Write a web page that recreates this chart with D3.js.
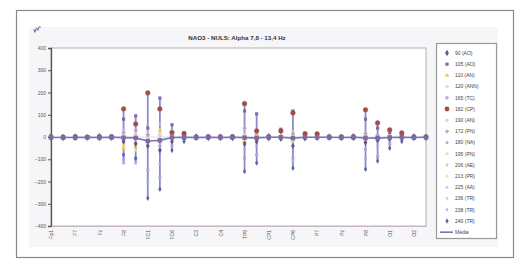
<!DOCTYPE html>
<html><head><meta charset="utf-8">
<script src="https://cdn.jsdelivr.net/npm/d3@7"></script>
<style>body{margin:0;background:#fff}svg{display:block}text{font-family:"Liberation Sans",Arial,sans-serif}</style>
</head><body><svg id="c" width="520" height="260"></svg>
<script>
const categories = ["Fp1","Fp2","F7","F3","Fz","F4","F8","FC5","FC1","FC2","FC6","T7","C3","Cz","C4","T8","TP9","CP5","CP1","CP2","CP6","TP10","P7","P3","Pz","P4","P8","PO9","O1","Oz","O2","PO10"];
const seriesNames = ["90 (AO)","105 (AO)","110 (AN)","120 (ANN)","165 (TC)","182 (CP)","190 (AN)","172 (PN)","180 (NA)","195 (PN)","206 (AE)","213 (PR)","225 (AA)","236 (TR)","238 (TR)","240 (TR)"];
const yTicks = [-400,-300,-200,-100,0,100,200,300,400];
const s1 = [2,-3,1,-2,3,-1,-20,-30,-40,-60,-20,-5,2,-3,1,-2,-30,-20,3,-4,-40,-3,2,1,-2,3,-25,-15,-8,-4,2,-1];
const s2 = [4,3,5,2,4,6,80,95,40,175,55,20,3,5,4,6,117,104,5,35,117,18,8,4,3,5,80,40,20,10,4,3];
const s3 = [-3,2,-4,3,-2,1,-50,-40,-20,30,10,-4,-6,2,-3,1,-20,5,2,4,-15,3,-2,4,1,-3,-10,-8,-4,2,1,-2];
const s4 = [1,-1,2,0,1,-2,10,12,5,8,4,2,1,-1,0,2,8,5,1,3,6,2,0,1,-1,1,5,4,2,1,0,1];
const s5 = [-5,-4,-6,-3,-5,-4,-100,-100,-150,-180,-40,-10,-5,-6,-4,-5,-95,-80,-6,-8,-95,-5,-4,-5,-6,-4,-55,-90,-30,-10,-5,-4];
const s6 = [0,-1,0,-1,0,-1,126,58,198,126,20,15,-1,0,-1,0,150,27,0,27,108,14,14,-1,0,-1,122,63,32,18,-1,0];
const s7 = [0,1,-1,2,0,-1,5,-5,8,-6,3,-2,1,0,-1,1,6,-3,2,1,4,-1,0,1,-2,0,5,-3,2,0,1,-1];
const s8 = [2,1,3,-1,2,0,20,30,10,-40,8,3,1,2,0,1,40,10,1,4,15,2,1,0,2,1,15,8,4,2,1,0];
const s9 = [-3,-2,-4,-2,-3,-1,-117,-117,-200,-120,30,-8,-3,-2,-4,-3,-55,-40,-3,-5,-110,-3,-2,-3,-2,-4,-100,-40,-20,-6,-3,-2];
const s10 = [1,0,-1,1,2,0,-40,-20,-10,15,5,1,0,1,2,0,-10,6,1,2,-8,1,0,1,-1,0,-6,-4,2,1,0,1];
const s11 = [2,1,0,2,1,3,15,10,6,-8,4,2,1,0,2,1,12,3,2,1,10,2,1,2,0,1,8,5,3,1,2,1];
const s12 = [-1,-2,0,-1,-2,-1,-30,-60,-15,-20,-6,-2,-1,0,-2,-1,-15,-10,-1,-2,-20,-1,-2,0,-1,-2,-12,-8,-4,-2,-1,0];
const s13 = [1,2,1,0,1,2,8,5,10,6,3,1,2,1,0,1,6,4,1,2,5,1,2,1,0,2,4,3,2,1,1,2];
const s14 = [0,-1,1,0,-1,0,-10,20,-8,12,-4,1,0,-1,1,0,-8,6,0,1,-6,1,0,-1,0,1,-5,3,-2,1,0,-1];
const s15 = [1,0,2,1,0,1,30,-10,25,60,10,4,1,2,0,1,20,15,2,3,25,3,1,0,1,2,18,10,5,3,1,0];
const s16 = [-6,-5,-7,-4,-6,-5,-80,-95,-275,-235,-60,-20,-6,-5,-7,-6,-155,-117,-8,-10,-140,-8,-6,-5,-7,-6,-145,-108,-50,-20,-6,-5];
const media = [-2,-2,-2,-1,-2,-1,-3,-4,-18,-15,-2,-1,-2,-1,-2,-1,-3,-4,-1,-1,-5,-1,-1,-1,-2,-1,-4,-5,-2,-1,-2,-1];

const allSeries = [s1,s2,s3,s4,s5,s6,s7,s8,s9,s10,s11,s12,s13,s14,s15,s16];
const colors = ["#6f4f8f","#8466a8","#f0cf5a","#d4d4e6","#b4a4d6","#a84a34","#d0d0de","#b0a0d0","#a0b4d8","#ecdc9a","#f0cc9c","#eee2a8","#ccd0e6","#e6c6d8","#c8b8da","#5a66a8"];
const shapes = [d3.symbolDiamond,d3.symbolSquare,d3.symbolTriangle,d3.symbolCross,d3.symbolSquare,d3.symbolCircle,d3.symbolCircle,d3.symbolCross,d3.symbolSquare,d3.symbolTriangle,d3.symbolDiamond,d3.symbolTriangle,d3.symbolSquare,d3.symbolDiamond,d3.symbolCircle,d3.symbolDiamond];
const sizes = [12,10,10,8,9,18,7,9,7,7,7,7,7,7,7,9];

const svg = d3.select("#c");
svg.append("rect").attr("x",16.5).attr("y",10.5).attr("width",497).attr("height",247).attr("fill","#fff").attr("stroke","#8a8a8a").attr("stroke-width",1.2);
svg.append("rect").attr("x",29).attr("y",27).attr("width",469).attr("height",220).attr("fill","#f6f6f8");

const x = d3.scalePoint().domain(categories).range([51,426]);
const y = d3.scaleLinear().domain([-400,400]).range([226,48]);

svg.append("rect").attr("x",51).attr("y",48).attr("width",375).attr("height",178).attr("fill","#fff").attr("stroke","#b0b0b0").attr("stroke-width",1);

svg.append("text").attr("x",237).attr("y",40).attr("text-anchor","middle").attr("font-size",6.2).attr("font-weight","bold").attr("fill","#333").text("NAO3 - NULS: Alpha 7,8 - 13,4 Hz");
svg.append("text").attr("x",34).attr("y",32).attr("font-size",5).attr("font-weight","bold").attr("fill","#444").attr("transform","rotate(-20,34,32)").text("µV²");

const yAxis = d3.axisLeft(y).tickValues(yTicks).tickSize(3).tickPadding(2);
const gy = svg.append("g").attr("transform","translate(51,0)").call(yAxis);
gy.selectAll("text").attr("font-size",5).attr("fill","#555");
gy.selectAll("line").attr("stroke","#555");
gy.select(".domain").attr("stroke","#555").attr("stroke-width",1.3);

const xAxis = d3.axisBottom(x).tickValues(categories.filter((c,i)=>i%2===0)).tickSize(0).tickPadding(3);
const gx = svg.append("g").attr("transform","translate(0,226)").call(xAxis);
gx.select(".domain").attr("stroke","#c8b8c8");
gx.selectAll("text").attr("font-size",5).attr("fill","#555").attr("text-anchor","end").attr("dy","0.35em")
  .attr("transform","rotate(-90)").attr("x",-4).attr("y",0);

svg.append("line").attr("x1",51).attr("x2",426).attr("y1",y(0)).attr("y2",y(0)).attr("stroke","#d0d0e0").attr("stroke-width",0.8);

const hl = categories.map((c,i)=>({c, hi:d3.max(allSeries,s=>s[i]), lo:d3.min(allSeries,s=>s[i])}));
svg.append("g").selectAll("line").data(hl).join("line")
  .attr("x1",d=>x(d.c)).attr("x2",d=>x(d.c)).attr("y1",d=>y(d.hi)).attr("y2",d=>y(d.lo))
  .attr("stroke","#8a8cc8").attr("stroke-width",1.8);

const order = [6,3,12,13,9,10,11,14,8,7,4,2,0,1,15,5];
order.forEach(k=>{
  svg.append("g").selectAll("path").data(allSeries[k]).join("path")
    .attr("transform",(d,i)=>`translate(${x(categories[i])},${y(d)})`)
    .attr("d",d3.symbol().type(shapes[k]).size(sizes[k]))
    .attr("fill",colors[k]).attr("stroke",k===5?"#8a6a9a":"none").attr("stroke-width",0.5);
});

const line = d3.line().x((d,i)=>x(categories[i])).y(d=>y(d));
svg.append("path").datum(media).attr("d",line).attr("fill","none").attr("stroke","#7676b4").attr("stroke-width",1.6);
svg.append("g").selectAll("rect").data(media).join("rect")
  .attr("x",(d,i)=>x(categories[i])-2.2).attr("y",d=>y(d)-2.2).attr("width",4.4).attr("height",4.4).attr("fill","#7a6aa6");

const lg = svg.append("g");
lg.append("rect").attr("x",436.5).attr("y",43.5).attr("width",60).attr("height",195).attr("fill","#fff").attr("stroke","#9a9a9a").attr("stroke-width",1.2);
const step = 11.2;
seriesNames.forEach((n,k)=>{
  const yy = 53 + k*step;
  lg.append("path").attr("transform",`translate(447,${yy})`).attr("d",d3.symbol().type(shapes[k]).size(sizes[k])).attr("fill",colors[k]);
  lg.append("text").attr("x",455).attr("y",yy).attr("dy","0.35em").attr("font-size",5).attr("fill","#444").text(n);
});
const ym = 53 + 16*step;
lg.append("line").attr("x1",440).attr("x2",453).attr("y1",ym).attr("y2",ym).attr("stroke","#7676b4").attr("stroke-width",1.6);
lg.append("text").attr("x",455).attr("y",ym).attr("dy","0.35em").attr("font-size",5).attr("fill","#444").text("Média");
</script></body></html>
